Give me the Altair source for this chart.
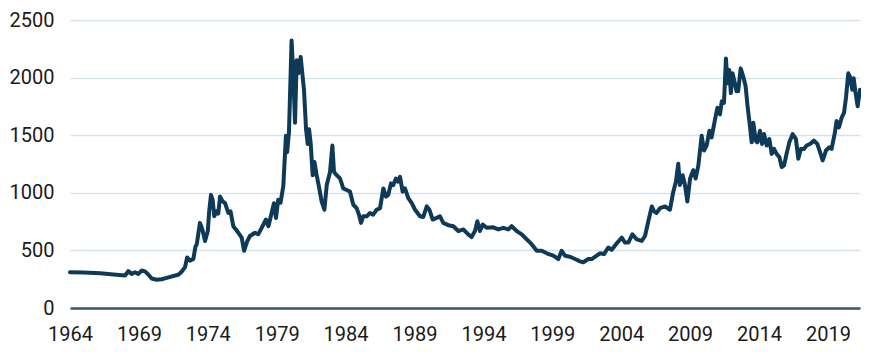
import altair as alt
import pandas as pd

years = [
    1964.0, 1965.0, 1966.2, 1967.15, 1968.0, 1968.23, 1968.47, 1968.72, 1968.96, 1969.2,
    1969.44, 1969.68, 1969.93, 1970.29, 1970.65, 1971.02, 1971.5, 1971.86, 1972.1, 1972.35,
    1972.5, 1972.71, 1972.95, 1973.1, 1973.2, 1973.43, 1973.6, 1973.8, 1974.0, 1974.1,
    1974.23, 1974.35, 1974.47, 1974.63, 1974.76, 1974.89, 1975.08, 1975.25, 1975.49, 1975.65,
    1975.85, 1976.22, 1976.46, 1976.63, 1976.87, 1977.06, 1977.42, 1977.66, 1977.91, 1978.22,
    1978.4, 1978.63, 1978.8, 1978.95, 1979.11, 1979.28, 1979.48, 1979.67, 1979.76, 1979.89,
    1980.08, 1980.2, 1980.33, 1980.45, 1980.57, 1980.74, 1980.86, 1980.98, 1981.13, 1981.25,
    1981.35, 1981.47, 1981.61, 1981.74, 1981.9, 1982.09, 1982.26, 1982.46, 1982.63, 1982.87,
    1983.04, 1983.16, 1983.35, 1983.6, 1983.83, 1984.08, 1984.32, 1984.56, 1984.8, 1984.97,
    1985.12, 1985.28, 1985.53, 1985.77, 1986.0, 1986.25, 1986.5, 1986.74, 1986.93, 1987.1,
    1987.29, 1987.46, 1987.65, 1987.82, 1987.95, 1988.14, 1988.31, 1988.55, 1988.8, 1989.04,
    1989.4, 1989.64, 1989.89, 1990.08, 1990.32, 1990.61, 1990.85, 1991.09, 1991.45, 1991.82,
    1992.18, 1992.54, 1992.9, 1993.14, 1993.39, 1993.56, 1993.75, 1993.95, 1994.24, 1994.72,
    1995.08, 1995.45, 1995.81, 1996.05, 1996.42, 1996.78, 1997.14, 1997.5, 1997.87, 1998.23,
    1998.6, 1999.07, 1999.44, 1999.68, 1999.92, 2000.28, 2000.65, 2001.01, 2001.25, 2001.61,
    2001.86, 2002.22, 2002.46, 2002.75, 2003.06, 2003.31, 2003.67, 2004.04, 2004.28, 2004.52,
    2004.81, 2005.13, 2005.49, 2005.73, 2005.97, 2006.22, 2006.39, 2006.57, 2006.82, 2007.18,
    2007.54, 2007.78, 2007.97, 2008.14, 2008.26, 2008.46, 2008.63, 2008.8, 2009.0, 2009.23,
    2009.4, 2009.6, 2009.84, 2010.01, 2010.2, 2010.4, 2010.56, 2010.81, 2010.98, 2011.17,
    2011.3, 2011.46, 2011.6, 2011.72, 2011.84, 2011.96, 2012.08, 2012.25, 2012.37, 2012.49,
    2012.67, 2012.86, 2013.03, 2013.17, 2013.34, 2013.47, 2013.59, 2013.76, 2013.88, 2014.07,
    2014.22, 2014.36, 2014.56, 2014.75, 2014.92, 2015.09, 2015.28, 2015.48, 2015.65, 2015.82,
    2016.0, 2016.2, 2016.44, 2016.68, 2016.85, 2017.04, 2017.26, 2017.46, 2017.7, 2017.99,
    2018.23, 2018.43, 2018.62, 2018.86, 2019.1, 2019.27, 2019.51, 2019.63, 2019.8, 2020.0,
    2020.17, 2020.31, 2020.48, 2020.6, 2020.77, 2020.87, 2020.99, 2021.16, 2021.33,
]

prices = [
    311, 308, 302, 291, 282, 320, 296, 311, 296, 325,
    318, 291, 256, 245, 250, 262, 278, 288, 315, 355,
    439, 411, 425, 530, 554, 739, 685, 582, 668, 839,
    982, 941, 796, 839, 820, 967, 925, 910, 825, 839,
    710, 653, 611, 497, 582, 625, 653, 640, 696, 768,
    710, 825, 910, 782, 940, 915, 1060, 1495, 1353, 1524,
    2323, 2037, 1609, 2151, 2037, 2180, 2037, 1895, 1552, 1424,
    1552, 1424, 1153, 1267, 1153, 1038, 925, 853, 1067, 1181,
    1410, 1181, 1153, 1124, 1038, 1024, 1010, 896, 867, 810,
    739, 796, 796, 825, 810, 853, 867, 1038, 967, 982,
    1082, 1067, 1124, 1096, 1139, 1010, 1038, 953, 910, 853,
    796, 790, 882, 853, 768, 782, 796, 739, 719, 710,
    668, 682, 639, 616, 668, 753, 668, 725, 696, 700,
    682, 696, 682, 710, 668, 639, 597, 554, 497, 497,
    475, 454, 425, 497, 454, 445, 425, 405, 397, 425,
    425, 454, 475, 468, 525, 505, 560, 611, 568, 568,
    639, 596, 582, 625, 753, 882, 839, 825, 867, 882,
    853, 1010, 1096, 1253, 1067, 1153, 1067, 925, 1124, 1196,
    1124, 1238, 1495, 1367, 1410, 1538, 1481, 1638, 1738, 1681,
    1795, 1781, 2166, 1952, 2066, 1866, 2037, 1952, 1881, 1881,
    2080, 2009, 1924, 1752, 1581, 1438, 1609, 1453, 1438, 1538,
    1424, 1510, 1410, 1467, 1338, 1381, 1338, 1310, 1224, 1238,
    1338, 1438, 1509, 1467, 1295, 1381, 1381, 1410, 1424, 1453,
    1424, 1353, 1281, 1367, 1395, 1381, 1524, 1624, 1567, 1652,
    1695, 1823, 2037, 2009, 1895, 1995, 1881, 1752, 1895,
]

x_ticks = [1964, 1969, 1974, 1979, 1984, 1989, 1994, 1999, 2004, 2009, 2014, 2019]
y_ticks = [0, 500, 1000, 1500, 2000, 2500]

df = pd.DataFrame({"year": years, "price": prices})

chart = (
    alt.Chart(df)
    .mark_line(color="#0f3a57", strokeWidth=4, strokeJoin="round", strokeCap="round")
    .encode(
        x=alt.X(
            "year:Q",
            scale=alt.Scale(domain=[1964, 2021.33], nice=False, zero=False),
            axis=alt.Axis(
                values=x_ticks,
                format="d",
                title=None,
                ticks=False,
                grid=False,
                domain=True,
                domainColor="#3b5866",
                domainWidth=2.5,
                labelFont="Roboto",
                labelFontSize=20,
                labelColor="#1a1a1a",
                labelPadding=16,
                labelFlush=False,
            ),
        ),
        y=alt.Y(
            "price:Q",
            scale=alt.Scale(domain=[0, 2500], nice=False),
            axis=alt.Axis(
                values=y_ticks,
                format="d",
                title=None,
                ticks=False,
                domain=False,
                grid=True,
                gridColor="#d5e3ea",
                gridWidth=1.5,
                labelFont="Roboto",
                labelFontSize=20,
                labelColor="#1a1a1a",
                labelPadding=16,
            ),
        ),
    )
    .properties(
        width=790,
        height=288,
        autosize=alt.AutoSizeParams(type="none"),
        padding={"left": 62, "top": 12, "right": 1, "bottom": 36},
    )
    .configure_view(stroke=None)
)

chart.save("out.html", embed_options={"renderer": "svg", "actions": False})
